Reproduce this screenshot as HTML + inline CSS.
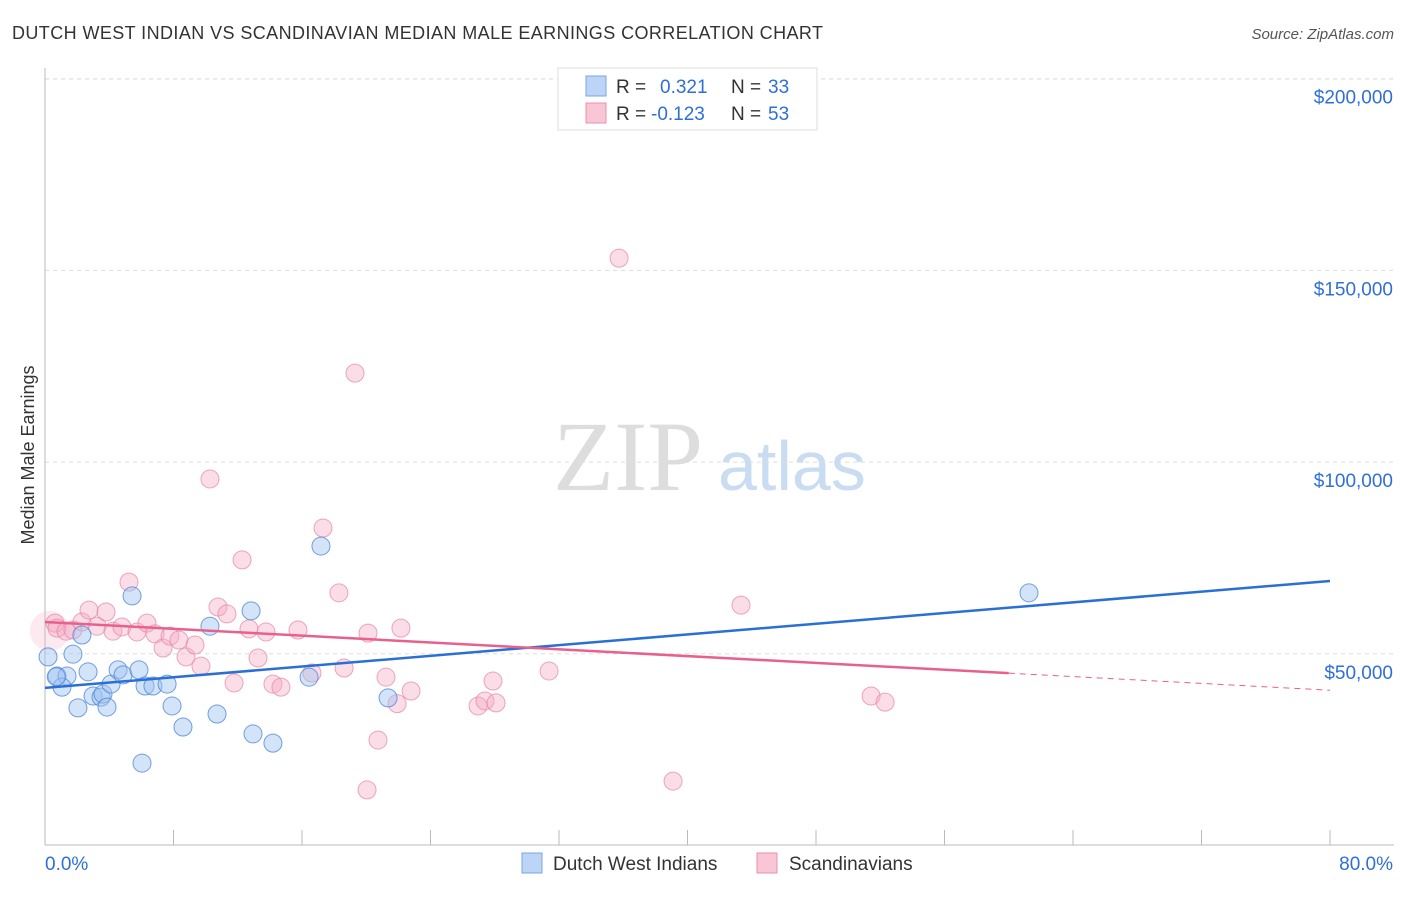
<!DOCTYPE html>
<html><head><meta charset="utf-8"><style>
body{margin:0;background:#fff;font-family:"Liberation Sans",sans-serif;}
svg text{font-family:"Liberation Sans",sans-serif;}
</style></head><body>
<svg id="c" width="1406" height="892" xmlns="http://www.w3.org/2000/svg">
<text x="12" y="39" font-size="18" fill="#333" textLength="811">DUTCH WEST INDIAN VS SCANDINAVIAN MEDIAN MALE EARNINGS CORRELATION CHART</text>
<text x="1394" y="39" font-size="15" fill="#555" text-anchor="end" font-style="italic">Source: ZipAtlas.com</text>
<text transform="translate(34,455) rotate(-90)" font-size="18" fill="#333" text-anchor="middle">Median Male Earnings</text>
<text x="553" y="490" font-size="100" fill="#ddd" style="font-family:'Liberation Serif',serif">ZIP</text>
<text x="718" y="490" font-size="70" fill="#c9dcf2">atlas</text>
<g id="grid"></g><g id="marks"></g>
<g>
<rect x="558" y="68" width="259" height="62" fill="#fff" stroke="#ddd"/>
<rect x="586" y="76" width="20" height="20" fill="#bcd4f5" stroke="#7aa6e0"/>
<rect x="586" y="103" width="20" height="20" fill="#f8c6d5" stroke="#e990ae"/>
<text x="616" y="93" font-size="19" fill="#333">R = </text><text x="660" y="93" font-size="19" fill="#2f6fd6">0.321</text>
<text x="731" y="93" font-size="19" fill="#333">N = </text><text x="768" y="93" font-size="19" fill="#2f6fd6">33</text>
<text x="616" y="120" font-size="19" fill="#333">R = </text><text x="651" y="120" font-size="19" fill="#2f6fd6">-0.123</text>
<text x="731" y="120" font-size="19" fill="#333">N = </text><text x="768" y="120" font-size="19" fill="#2f6fd6">53</text>
</g>
<g>
<rect x="522" y="853" width="20" height="20" fill="#bcd4f5" stroke="#7aa6e0"/>
<text x="553" y="870" font-size="19" fill="#333">Dutch West Indians</text>
<rect x="757" y="853" width="20" height="20" fill="#f8c6d5" stroke="#e990ae"/>
<text x="789" y="870" font-size="19" fill="#333">Scandinavians</text>
</g>
</svg>
<script>
const yTicks=[50000,100000,150000,200000];
const yTickLabels=["$50,000","$100,000","$150,000","$200,000"];
const xTickVals=[0,8,16,24,32,40,48,56,64,72,80];
const blueX=[0.19,0.75,1.37,1.06,1.74,2.30,2.68,2.05,2.99,3.49,3.61,3.86,4.11,4.55,4.86,5.42,5.85,6.23,6.72,6.04,7.60,7.91,8.59,10.27,10.71,12.83,12.95,14.19,16.44,17.18,21.36,61.26,0.7];
const blueY=[49200,44200,44200,41300,49900,54900,45300,35900,39000,38700,39500,36100,42100,45800,44500,65100,45800,41600,41600,21500,42100,36400,30900,57200,34300,61200,29100,26700,43900,78100,38500,65900,44000];
const pinkX=[0.62,0.75,1.31,1.74,2.30,2.74,3.24,3.80,4.23,4.79,5.23,5.73,6.35,6.85,7.35,7.78,8.34,8.78,9.34,9.71,10.27,10.77,11.33,11.77,12.27,12.70,13.26,13.76,14.19,14.69,15.75,17.31,16.62,18.30,18.62,19.30,20.11,20.05,20.73,21.23,21.92,22.16,22.79,26.96,27.39,27.89,28.08,31.38,35.74,39.10,43.33,51.43,52.30];
const pinkY=[58000,56700,55900,56200,58300,61400,57200,60900,55900,57000,68700,55700,58000,55200,51500,54600,53600,49200,52300,46800,95600,62200,60400,42400,74500,56500,48900,55700,42100,41300,56200,82800,45000,65900,46300,123200,55400,14500,27500,43900,37000,56700,40300,36400,37700,42900,37200,45500,153200,16800,62700,39000,37400];
const blueTrend=[41100,69000];
const pinkTrend=[58300,40500];
const pinkSolidEnd=60;
const X=p=>45+p/80*1285, Y=v=>845.5-v/50000*191.7;
const NS="http://www.w3.org/2000/svg";
function mk(tag,at,parent){const e=document.createElementNS(NS,tag);for(const k in at)e.setAttribute(k,at[k]);parent.appendChild(e);return e;}
const gg=document.getElementById('grid'),mm=document.getElementById('marks');
yTicks.forEach((v,i)=>{
 const l=mk('line',{x1:45,x2:1394,y1:Y(v),y2:Y(v),stroke:'#ddd','stroke-dasharray':'4,4'},gg);
 
 
 const t=mk('text',{x:1393,y:Y(v)+25,'font-size':19,fill:'#2f6fd6','text-anchor':'end'},gg);t.textContent=yTickLabels[i];
 
 
});
mk('line',{x1:45,x2:1394,y1:79,y2:79,stroke:'#ddd','stroke-dasharray':'4,4'},gg);
mk('line',{x1:45,x2:45,y1:68,y2:845,stroke:'#bbb'},gg);
const xa=mk('line',{x1:45,x2:1394,y1:845,y2:845,stroke:'#bbb'},gg);


xTickVals.forEach(v=>{mk('line',{x1:X(v),x2:X(v),y1:830,y2:845,stroke:'#bbb'},gg);});
const xt0=mk('text',{x:45,y:870,'font-size':19,fill:'#2f6fd6'},gg);xt0.textContent='0.0%';


const xt1=mk('text',{x:1393,y:870,'font-size':19,fill:'#2f6fd6','text-anchor':'end'},gg);xt1.textContent='80.0%';


const big=mk('circle',{cx:X(0.3),cy:Y(56000),r:20,fill:'rgba(244,170,195,0.25)'},mm);


pinkX.forEach((p,i)=>{const c=mk('circle',{cx:X(p),cy:Y(pinkY[i]),r:9,fill:'rgba(244,170,195,0.4)',stroke:'rgba(230,130,165,0.7)','stroke-width':1},mm);
 
 });
blueX.forEach((p,i)=>{const c=mk('circle',{cx:X(p),cy:Y(blueY[i]),r:9,fill:'rgba(160,195,240,0.45)',stroke:'rgba(70,130,215,0.75)','stroke-width':1},mm);
 
 });
const pv=p=>pinkTrend[0]+(pinkTrend[1]-pinkTrend[0])*p/80;
const bl=mk('line',{x1:X(0),y1:Y(blueTrend[0]),x2:X(80),y2:Y(blueTrend[1]),stroke:'#2a6fd6','stroke-width':2.5},mm);


const pl=mk('line',{x1:X(0),y1:Y(pv(0)),x2:X(pinkSolidEnd),y2:Y(pv(pinkSolidEnd)),stroke:'#e8608e','stroke-width':2.5},mm);


const pd=mk('line',{x1:X(pinkSolidEnd),y1:Y(pv(pinkSolidEnd)),x2:X(80),y2:Y(pv(80)),stroke:'#e8608e','stroke-width':1,'stroke-dasharray':'6,5'},mm);


</script>
</body></html>
